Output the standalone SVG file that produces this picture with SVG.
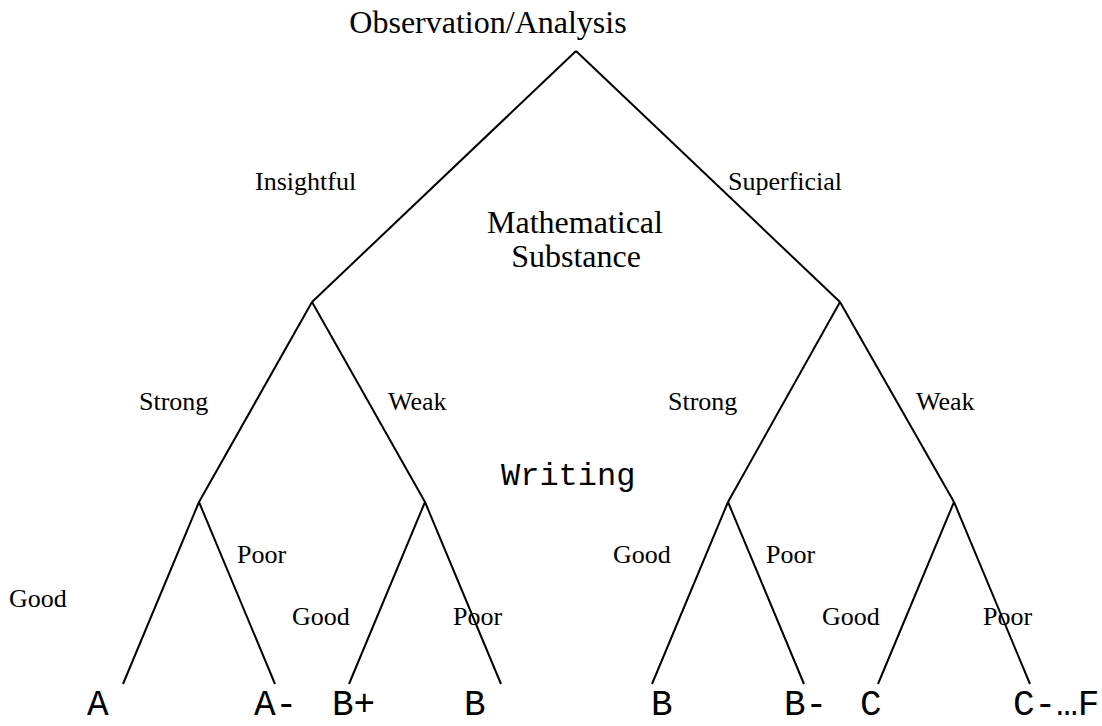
<svg xmlns="http://www.w3.org/2000/svg" width="1102" height="726" viewBox="0 0 1102 726">
<style>
.edge{stroke:#000;stroke-width:2;fill:none;stroke-linecap:butt}
.big{font-family:"Liberation Serif","Times New Roman",serif;font-size:32px;fill:#000}
.lbl{font-family:"Liberation Serif","Times New Roman",serif;font-size:26px;fill:#000}
.mono{font-family:"Liberation Mono","Courier New",monospace;fill:#000}
.leaf{font-family:"Liberation Mono","Courier New",monospace;font-size:36px;fill:#000}
</style>
<rect width="1102" height="726" fill="#fff"/>
<g id="connectors">
<line class="edge" x1="576" y1="51" x2="312" y2="302"/>
<line class="edge" x1="576" y1="51" x2="840" y2="302"/>
<line class="edge" x1="312" y1="302" x2="199" y2="502"/>
<line class="edge" x1="312" y1="302" x2="425" y2="502"/>
<line class="edge" x1="840" y1="302" x2="728" y2="502"/>
<line class="edge" x1="840" y1="302" x2="954" y2="502"/>
<line class="edge" x1="199" y1="502" x2="123" y2="684"/>
<line class="edge" x1="199" y1="502" x2="275" y2="684"/>
<line class="edge" x1="425" y1="502" x2="349" y2="684"/>
<line class="edge" x1="425" y1="502" x2="501" y2="684"/>
<line class="edge" x1="728" y1="502" x2="652" y2="684"/>
<line class="edge" x1="728" y1="502" x2="804" y2="684"/>
<line class="edge" x1="954" y1="502" x2="878" y2="684"/>
<line class="edge" x1="954" y1="502" x2="1030" y2="684"/>
</g>
<g id="root"><text class="big" x="488" y="33" text-anchor="middle">Observation/Analysis</text></g>
<g id="substance"><text class="big" x="575" y="233" text-anchor="middle">Mathematical</text><text class="big" x="576" y="267" text-anchor="middle">Substance</text></g>
<g id="writing"><text class="mono" font-size="32" x="501" y="485">Writing</text></g>
<g id="edge-labels">
<text class="lbl" x="255" y="190">Insightful</text>
<text class="lbl" x="728" y="190">Superficial</text>
<text class="lbl" x="139" y="410">Strong</text>
<text class="lbl" x="388" y="410">Weak</text>
<text class="lbl" x="668" y="410">Strong</text>
<text class="lbl" x="916" y="410">Weak</text>
<text class="lbl" x="237" y="563">Poor</text>
<text class="lbl" x="9" y="607">Good</text>
<text class="lbl" x="292" y="625">Good</text>
<text class="lbl" x="453" y="625">Poor</text>
<text class="lbl" x="613" y="563">Good</text>
<text class="lbl" x="766" y="563">Poor</text>
<text class="lbl" x="822" y="625">Good</text>
<text class="lbl" x="983" y="625">Poor</text>
</g>
<g id="leaves">
<text class="leaf" x="87" y="715">A</text>
<text class="leaf" x="254" y="715">A-</text>
<text class="leaf" x="332" y="715">B+</text>
<text class="leaf" x="464" y="715">B</text>
<text class="leaf" x="651" y="715">B</text>
<text class="leaf" x="784" y="715">B-</text>
<text class="leaf" x="860" y="715">C</text>
<text class="leaf" x="1013" y="715">C-…F</text>
</g>
</svg>
